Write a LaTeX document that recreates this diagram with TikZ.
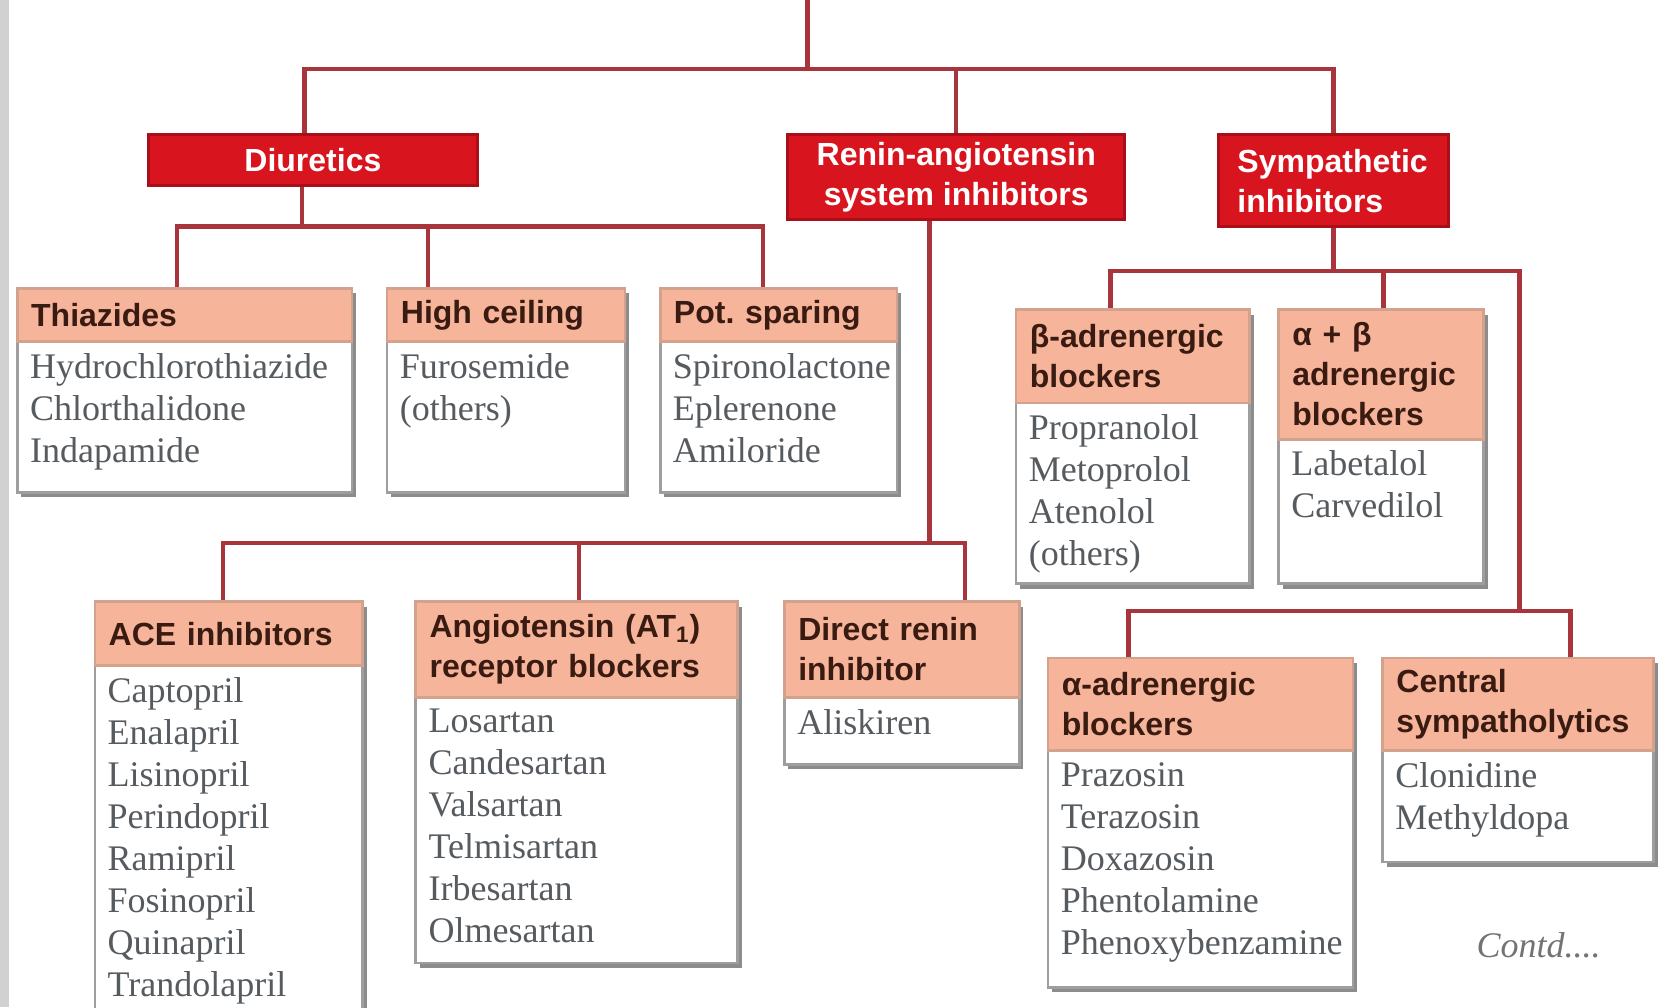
\documentclass[tikz,border=0pt]{standalone}
\usepackage{fontspec}
\setmainfont{Liberation Serif}
\newfontfamily\headfont{Liberation Sans}
\usetikzlibrary{calc,shadows}
\frenchspacing

\definecolor{boxred}{HTML}{D8141F}
\definecolor{boxredline}{HTML}{A90F19}
\definecolor{linkred}{HTML}{A8343C}
\definecolor{salmon}{HTML}{F6B49A}
\definecolor{salmonline}{HTML}{D2A28C}
\definecolor{headtext}{HTML}{3A1B12}
\definecolor{itemtext}{HTML}{565B60}

\begin{document}
\begin{tikzpicture}[x=0.53125pt,y=-0.53125pt,
  link/.style={draw=linkred,line width=2.2pt},
  redbox/.style 2 args={anchor=north west,fill=boxred,draw=boxredline,line width=1.6pt,
    text=white,font=\headfont\bfseries\fontsize{16}{20}\selectfont,align=center,
    minimum width={#1*0.53125pt},minimum height={#2*0.53125pt}},
  group/.style 2 args={anchor=north west,fill=white,draw=black!38,line width=1.4pt,
    minimum width={#1*0.53125pt},minimum height={#2*0.53125pt},
    drop shadow={shadow xshift=2pt,shadow yshift=-2.5pt,fill=black!45,opacity=1}},
  head/.style 2 args={anchor=north west,fill=salmon,draw=salmonline,line width=1.4pt,
    text=headtext,font=\headfont\bfseries\fontsize{16}{20}\selectfont,
    minimum width={#1*0.53125pt},minimum height={#2*0.53125pt},
    inner xsep=6.9pt,inner ysep=0pt,
    /utils/exec={\pgfmathsetlengthmacro\headw{(#1-26)*0.53125}},
    text width=\headw,align=left},
  items/.style={anchor=north west,inner xsep=6.9pt,inner ysep=5pt,align=left,
    text=itemtext,font=\fontsize{18}{21}\selectfont}]
\useasboundingbox (0,0) rectangle (1568,948);
\fill[black!18] (0,0) rectangle (8,948);

% top row
\node[redbox={310}{48}] (dia) at (138,125) {Diuretics};
\node[redbox={317}{80}] (ras) at (740,125) {Renin-angiotensin\\system inhibitors};
\node[redbox={217}{87},align=left,inner xsep=9.6pt,text width=96pt] (sym) at (1145,125) {Sympathetic\\inhibitors};

% diuretics
\node[group={315}{192}] (thzbox) at (15,270) {};
\node[head={315}{50}] (thz) at (15,270) {Thiazides};
\node[items] (thzlist) at (thz.south west) {Hydrochlorothiazide\\Chlorthalidone\\Indapamide};

\node[group={224}{192}] (hcbox) at (363,270) {};
\node[head={224}{50}] (hc) at (363,270) {High ceiling};
\node[items] (hclist) at (hc.south west) {Furosemide\\(others)};

\node[group={223}{192}] (psbox) at (620,270) {};
\node[head={223}{50}] (ps) at (620,270) {Pot.\ sparing};
\node[items] (pslist) at (ps.south west) {Spironolactone\\Eplerenone\\Amiloride};

% sympathetic, upper
\node[group={220}{258}] (bbbox) at (955,290) {};
\node[head={220}{88}] (bb) at (955,290) {β-adrenergic\\blockers};
\node[items] (bblist) at (bb.south west) {Propranolol\\Metoprolol\\Atenolol\\(others)};

\node[group={193}{258}] (abbox) at (1202,290) {};
\node[head={193}{122}] (ab) at (1202,290) {α + β\\adrenergic\\blockers};
\node[items] (ablist) at (ab.south west) {Labetalol\\Carvedilol};

% renin-angiotensin
\node[group={252}{390}] (acebox) at (88,565) {};
\node[head={252}{60}] (ace) at (88,565) {ACE inhibitors};
\node[items] (acelist) at (ace.south west) {Captopril\\Enalapril\\Lisinopril\\Perindopril\\Ramipril\\Fosinopril\\Quinapril\\Trandolapril};

\node[group={303}{340}] (arbbox) at (390,565) {};
\node[head={303}{90}] (arb) at (390,565) {Angiotensin (AT\textsubscript{1})\\receptor blockers};
\node[items] (arblist) at (arb.south west) {Losartan\\Candesartan\\Valsartan\\Telmisartan\\Irbesartan\\Olmesartan};

\node[group={221}{153}] (dribox) at (737,565) {};
\node[head={221}{90}] (dri) at (737,565) {Direct renin\\inhibitor};
\node[items] (drilist) at (dri.south west) {Aliskiren};

% sympathetic, lower
\node[group={287}{310}] (albox) at (985,618) {};
\node[head={287}{87}] (al) at (985,618) {α-adrenergic\\blockers};
\node[items] (allist) at (al.south west) {Prazosin\\Terazosin\\Doxazosin\\Phentolamine\\Phenoxybenzamine};

\node[group={255}{192}] (csbox) at (1300,618) {};
\node[head={255}{87}] (cs) at (1300,618) {Central\\sympatholytics};
\node[items] (cslist) at (cs.south west) {Clonidine\\Methyldopa};

\node[text=black!55,font=\itshape\fontsize{18}{21}\selectfont] (contd) at (1448,890) {Contd....};

% connectors
\coordinate (root) at (760,0);
\coordinate (j0) at (760,65);
\draw[link] (root) -- (j0);
\draw[link] ($(dia.north)+(-8,0)$) |- (j0) -| (sym.north);
\draw[link] (j0) -| (ras.north);

\coordinate (j1) at ($(dia.south)+(-10,37)$);
\draw[link] ($(dia.south)+(-10,0)$) -- (j1);
\draw[link] ($(thz.north)+(-7,0)$) |- (j1) -| ($(ps.north west)+(98,0)$);
\draw[link] ($(hc.north west)+(40,0)$) |- (j1);

\coordinate (j2) at ($(ras.south west)+(135,303)$);
\draw[link] ($(ras.south west)+(135,0)$) -- (j2);
\draw[link] ($(ace.north west)+(122,0)$) |- (j2) -| ($(dri.north west)+(171,0)$);
\draw[link] ($(arb.north west)+(155,0)$) |- (j2);

\coordinate (j3) at ($(sym.south)+(0,40)$);
\coordinate (j4) at ($(cs.north west)+(130,-43)$);
\draw[link] (sym.south) -- (j3);
\draw[link] ($(bb.north west)+(90,0)$) |- (j3) -| (j4);
\draw[link] ($(ab.north west)+(100,0)$) |- (j3);
\draw[link] ($(al.north west)+(77,0)$) |- (j4) -| ($(cs.north west)+(178,0)$);
\end{tikzpicture}
\end{document}
